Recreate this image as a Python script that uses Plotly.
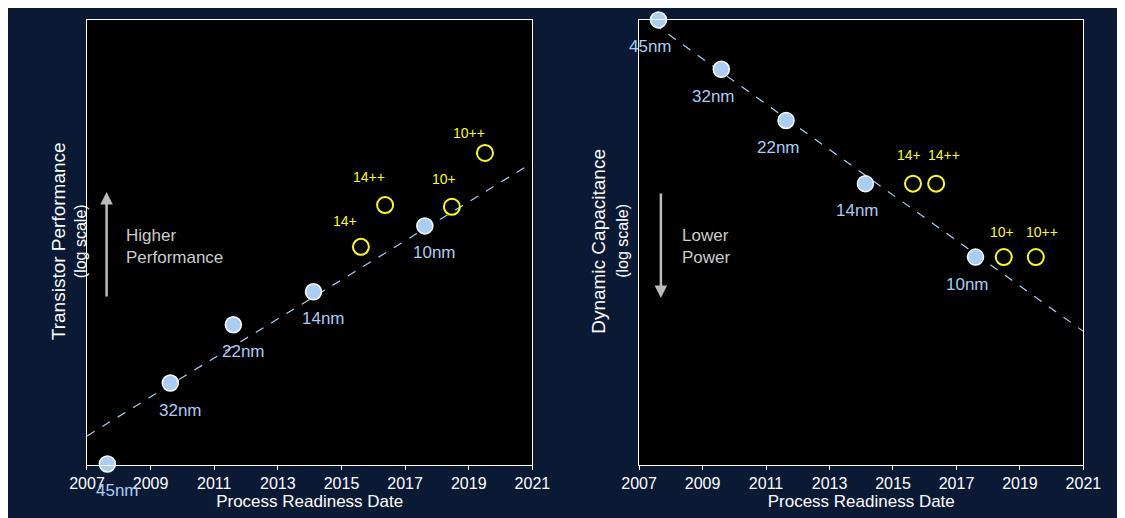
import plotly.graph_objs as go

# left panel: transistor performance
perf_nodes = ["45nm", "32nm", "22nm", "14nm", "10nm"]
perf_year = [2007.64, 2009.62, 2011.6, 2014.12, 2017.62]
perf_val = [0.2, 18.4, 31.5, 38.9, 53.7]
perf_plus = ["14+", "14++", "10+", "10++"]
perf_plus_year = [2015.61, 2016.37, 2018.47, 2019.51]
perf_plus_val = [49.0, 58.4, 58.0, 70.1]
perf_trend_year = [2007, 2021]
perf_trend_val = [6.5, 67.9]

# right panel: dynamic capacitance
cap_nodes = ["45nm", "32nm", "22nm", "14nm", "10nm"]
cap_year = [2007.61, 2009.59, 2011.63, 2014.13, 2017.6]
cap_val = [100, 88.9, 77.4, 63.2, 46.7]
cap_plus = ["14+", "14++", "10+", "10++"]
cap_plus_year = [2015.63, 2016.36, 2018.49, 2019.5]
cap_plus_val = [63.2, 63.2, 46.7, 46.7]
cap_trend_year = [2007, 2021]
cap_trend_val = [101.5, 30.0]

x_ticks = [2007, 2009, 2011, 2013, 2015, 2017, 2019, 2021]

BLUE = "#a9cdf4"
YEL = "#ffff00"

fig = go.Figure()

def add_panel(xa, ya, tx, tv, yrs, vals, nodes, pyrs, pvals, pnames, label_shift, plus_shift):
    fig.add_trace(go.Scatter(x=tx, y=tv, mode="lines", xaxis=xa, yaxis=ya,
                             line=dict(color="#a9cdf4", width=1.2, dash="dash"), showlegend=False))
    fig.add_trace(go.Scatter(x=yrs, y=vals, mode="markers", xaxis=xa, yaxis=ya, cliponaxis=False,
                             marker=dict(size=16, color=BLUE, line=dict(color="white", width=1.5)),
                             showlegend=False))
    fig.add_trace(go.Scatter(x=pyrs, y=pvals, mode="markers", xaxis=xa, yaxis=ya,
                             marker=dict(size=16, color="rgba(0,0,0,0)", line=dict(color=YEL, width=2)),
                             showlegend=False))
    for n, x, y in zip(nodes, yrs, vals):
        fig.add_annotation(x=x, y=y, xref=xa, yref=ya, text=n, showarrow=False,
                           xshift=label_shift, yshift=-27, font=dict(color=BLUE, size=17))
    for n, x, y, s in zip(pnames, pyrs, pvals, plus_shift):
        fig.add_annotation(x=x, y=y, xref=xa, yref=ya, text=n, showarrow=False,
                           xshift=s[0], yshift=s[1], font=dict(color=YEL, size=14))

add_panel("x", "y", perf_trend_year, perf_trend_val, perf_year, perf_val, perf_nodes,
          perf_plus_year, perf_plus_val, perf_plus, 10,
          [(-16, 26), (-16, 28), (-8, 28), (-16, 20)])
add_panel("x2", "y2", cap_trend_year, cap_trend_val, cap_year, cap_val, cap_nodes,
          cap_plus_year, cap_plus_val, cap_plus, -8,
          [(-4, 29), (8, 29), (-2, 25), (6, 25)])

axis_common = dict(range=[2007, 2021], tickvals=x_ticks, showgrid=False, zeroline=False,
                   showline=True, mirror=True, linecolor="white", linewidth=1, ticks="outside",
                   tickcolor="white", ticklen=4, tickfont=dict(color="white", size=16),
                   title=dict(text="Process Readiness Date", font=dict(color="white", size=17), standoff=4))
yaxis_common = dict(range=[0, 100], showticklabels=False, showgrid=False, zeroline=False,
                    showline=True, mirror=True, linecolor="white", linewidth=1, ticks="")

fig.update_layout(
    width=1125, height=518,
    margin=dict(l=0, r=0, t=0, b=0),
    paper_bgcolor="#0a1a34", plot_bgcolor="black",
    font=dict(family="Liberation Sans, Arial, sans-serif"),
    xaxis=dict(domain=[0.056, 0.465], anchor="y", **axis_common),
    yaxis=dict(domain=[0.118, 0.977], anchor="x", **yaxis_common),
    xaxis2=dict(domain=[0.563, 0.971], anchor="y2", **axis_common),
    yaxis2=dict(domain=[0.118, 0.977], anchor="x2", **yaxis_common),
)

# axis titles
for xp, big, small in [(0.018, "Transistor Performance", "(log scale)"),
                       (0.525, "Dynamic Capacitance", "(log scale)")]:
    fig.add_annotation(x=xp, y=0.55, xref="paper", yref="paper", text=big, textangle=-90,
                       showarrow=False, font=dict(color="white", size=19))
    fig.add_annotation(x=xp + 0.022, y=0.55, xref="paper", yref="paper", text=small, textangle=-90,
                       showarrow=False, font=dict(color="white", size=16))

# arrows and captions
fig.add_annotation(x=0.074, y=0.645, ax=0, ay=106, xref="paper", yref="paper",
                   text="", showarrow=True, arrowhead=2,
                   arrowsize=1, arrowwidth=2.5, arrowcolor="#bbbbbb")
fig.add_annotation(x=0.09, y=0.54, xref="paper", yref="paper", text="Higher<br>Performance",
                   align="left", xanchor="left", showarrow=False, font=dict(color="#cccccc", size=17))
fig.add_annotation(x=0.583, y=0.44, ax=0, ay=-106, xref="paper", yref="paper",
                   text="", showarrow=True, arrowhead=2,
                   arrowsize=1, arrowwidth=2.5, arrowcolor="#bbbbbb")
fig.add_annotation(x=0.601, y=0.54, xref="paper", yref="paper", text="Lower<br>Power",
                   align="left", xanchor="left", showarrow=False, font=dict(color="#cccccc", size=17))

fig.write_html("out.html")
